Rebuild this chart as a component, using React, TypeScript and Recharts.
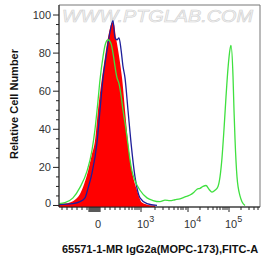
import { ComposedChart, Area, Line, XAxis, YAxis, ReferenceArea } from 'recharts'

// x is in display channels (biexponential axis), y is % of max count
const redU = [0, 6, 11, 16, 21, 25, 29, 33, 36, 39, 43, 46, 48, 51, 53, 55, 57, 58, 61, 63, 66, 69, 73, 78, 83, 89, 96]
const redV = [1, 1, 1.5, 3, 6, 11, 18, 27, 34, 50, 67, 78, 85, 93, 96, 95, 88, 85, 75, 67, 50, 33, 18, 8, 1.5, 0.3, 0]

const blueU = [0, 14, 21, 26, 29, 33, 38, 41, 44, 47, 49, 51, 54, 56, 58, 60, 62, 64, 66, 69, 72, 76, 81, 88, 98]
const blueV = [0.5, 1, 2, 4, 9, 17, 33, 50, 67, 78, 85, 91, 97, 88, 87, 88, 82, 73, 67, 50, 33, 15, 4, 1, 0]

const greenU = [0, 6, 14, 21, 28, 33, 36, 39, 41, 44, 46, 49, 52, 54, 56, 58, 60, 62, 64, 67, 69, 71, 73, 76, 81, 88, 94, 101, 106, 111, 116, 121, 126, 131, 135, 138, 141, 144, 147, 150, 153, 156, 159, 161, 163, 165, 167, 169, 171, 172, 174, 175, 176, 178, 181, 183, 186]
const greenV = [1, 1.5, 4, 9.5, 18, 29, 40, 55, 66, 78, 84, 87, 85, 80, 73, 67, 64, 58, 50, 40, 32, 24, 18, 13, 8, 4, 2.6, 2, 2.8, 2.5, 3, 3.5, 4.5, 5.5, 7, 8.5, 9, 10, 10.5, 8.5, 7, 8, 10, 15, 25, 40, 57, 72, 82, 84, 68, 50, 35, 15, 5, 2, 0]

const xMajorTicks = [39, 82, 129, 170]
const xMajorExp = [0, 3, 4, 5]
const xMinorTicks = [3, 8, 13, 18, 23, 28, 30, 31, 32, 33, 34, 35, 36, 37, 38, 40, 41, 46, 51, 56, 61, 66, 70, 73, 76, 78, 80, 96, 104, 110, 115, 119, 122, 124, 127, 141, 149, 154, 158, 161, 164, 166, 168, 182, 190, 195, 199]
const yMajorTicks = [0, 20, 40, 60, 80, 100]
const yMinorTicks = [5, 10, 15, 25, 30, 35, 45, 50, 55, 65, 70, 75, 85, 90, 95]

const X_MIN = 0
const X_MAX = 201
const Y_MIN = -0.8
const Y_MAX = 105.25

const FONT = '"Liberation Sans", Arial, sans-serif'
const RED = '#ff0000'
const BLUE = '#1e1e9a'
const GREEN = '#3fe03f'
const AXIS = '#222'

type Row = { u: number; red?: number; blue?: number; green?: number }

function buildRows(): Row[] {
  const rows = new Map<number, Row>()
  const add = (us: number[], vs: number[], key: 'red' | 'blue' | 'green') => {
    us.forEach((u, i) => {
      const r = rows.get(u) ?? { u }
      r[key] = vs[i]
      rows.set(u, r)
    })
  }
  add(redU, redV, 'red')
  add(blueU, blueV, 'blue')
  add(greenU, greenV, 'green')
  return [...rows.values()].sort((a, b) => a.u - b.u)
}

function XTick({ x, y, payload }: any) {
  const idx = xMajorTicks.indexOf(payload.value)
  const major = idx >= 0
  const len = major ? 5 : (payload.value >= 29 && payload.value <= 41 ? 5 : 3)
  return (
    <g>
      <line x1={x} y1={y} x2={x} y2={y + len} stroke={AXIS} strokeWidth={1} />
      {major && xMajorExp[idx] === 0 && (
        <text x={x} y={y + 21} textAnchor="middle" fontFamily={FONT} fontSize={11} fill="#333">0</text>
      )}
      {major && xMajorExp[idx] > 0 && (
        <text x={x - 4} y={y + 21} textAnchor="start" fontFamily={FONT} fontSize={11} fill="#333">
          10<tspan dy={-6} fontSize={9}>{xMajorExp[idx]}</tspan>
        </text>
      )}
    </g>
  )
}

function YTick({ x, y, payload }: any) {
  const major = yMajorTicks.includes(payload.value)
  return (
    <g>
      <line x1={x - (major ? 6 : 3)} y1={y} x2={x} y2={y} stroke={AXIS} strokeWidth={1} />
      {major && (
        <text x={x - 8} y={y + 4 - (payload.value === 0 ? 2 : 0)} textAnchor="end" fontFamily={FONT} fontSize={11} fill="#333">
          {payload.value}
        </text>
      )}
    </g>
  )
}

export default function App() {
  const data = buildRows()
  return (
    <div style={{ position: 'absolute', left: 0, top: 0, width: 263, height: 259, background: '#fff' }}>
      <svg width={263} height={259} style={{ position: 'absolute', left: 0, top: 0 }}>
        <text x={62} y={22} textLength={191} lengthAdjust="spacingAndGlyphs" fontFamily={FONT} fontSize={17}
          fill="#f4f4f4" stroke="#d2d2d2" strokeWidth={0.6} fontStyle="italic">WWW.PTGLAB.COM</text>
        <text transform="translate(18,104) rotate(-90)" textAnchor="middle" fontFamily={FONT} fontSize={11}
          fontWeight="bold" fill="#111">Relative Cell Number</text>
        <text x={160} y={253} textAnchor="middle" fontFamily={FONT} fontSize={11} fontWeight="bold" fill="#111">
          65571-1-MR IgG2a(MOPC-173),FITC-A
        </text>
      </svg>
      <div style={{ position: 'absolute', left: 0, top: 0 }}>
        <ComposedChart width={263} height={259} data={data} margin={{ top: 5, right: 3, left: 0, bottom: 0 }}>
          <XAxis dataKey="u" type="number" domain={[X_MIN, X_MAX]} allowDataOverflow
            ticks={[...xMinorTicks, ...xMajorTicks].sort((a, b) => a - b)} interval={0}
            height={52} tickSize={0} tickMargin={0} tickLine={false} tick={<XTick />}
            axisLine={{ stroke: AXIS }} />
          <YAxis type="number" domain={[Y_MIN, Y_MAX]} allowDataOverflow
            ticks={[...yMajorTicks, ...yMinorTicks].sort((a, b) => a - b)} interval={0}
            width={59} tickSize={0} tickMargin={0} tickLine={false} tick={<YTick />}
            axisLine={{ stroke: AXIS }} />
          <ReferenceArea x1={X_MIN} x2={X_MAX} y1={Y_MIN} y2={Y_MAX} fill="none" stroke="#777" strokeWidth={1} />
          <Area dataKey="red" type="monotone" fill={RED} fillOpacity={1} stroke="none" baseValue={Y_MIN}
            connectNulls isAnimationActive={false} dot={false} activeDot={false} />
          <Line dataKey="blue" type="monotone" stroke={BLUE} strokeWidth={1.3} connectNulls
            isAnimationActive={false} dot={false} activeDot={false} />
          <Line dataKey="green" type="monotone" stroke={GREEN} strokeWidth={1.3} connectNulls
            isAnimationActive={false} dot={false} activeDot={false} />
        </ComposedChart>
      </div>
    </div>
  )
}
